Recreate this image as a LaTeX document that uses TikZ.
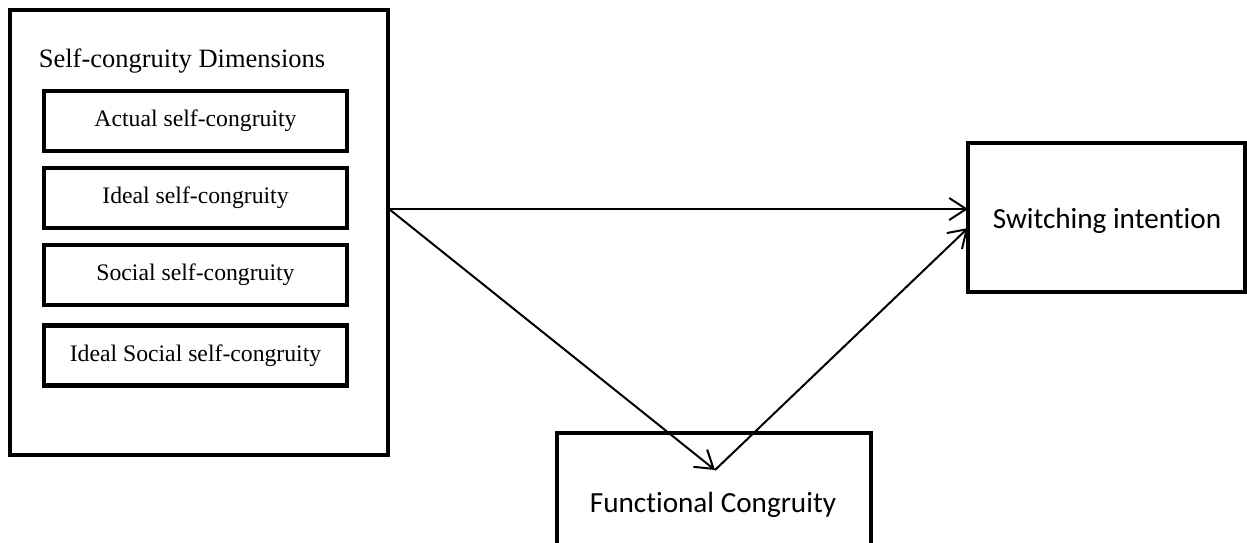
\documentclass[tikz,border=0pt]{standalone}
\usepackage{fontspec}
\setmainfont{Liberation Serif}
\newfontfamily\calibrifont[Ligatures={NoCommon}]{Carlito}
\usetikzlibrary{arrows.meta}
\tikzset{
  bigbox/.style={draw, line width=2pt, inner sep=0pt},
  dimbox/.style={draw, line width=2.2pt, inner sep=0pt, minimum width=151.5pt, minimum height=30pt, font=\fontsize{11.85}{14}\selectfont},
  sanslabel/.style={inner sep=0pt, anchor=base, font=\calibrifont\fontsize{14.6}{17}\selectfont},
  link/.style={line width=1pt, -{Straight Barb[length=8.5pt,width=11pt,line width=1pt]}}
}
\begin{document}
\begin{tikzpicture}[x=0.5pt,y=-0.5pt]
\useasboundingbox (0,0) rectangle (1247,542);
\begin{scope}
\clip (0,0) rectangle (1247,542);
% outer group box
\node[bigbox, minimum width=189pt, minimum height=222.5pt] (outer) at (199,232.5) {};
\node[inner sep=0pt, anchor=base, font=\fontsize{13.25}{16}\selectfont] (title) at (182,67) {Self-congruity Dimensions};
\node[dimbox] (actual) at (195.5,121) {Actual self-congruity};
\node[dimbox] (ideal) at (195.5,198) {Ideal self-congruity};
\node[dimbox] (social) at (195.5,275) {Social self-congruity};
\node[dimbox] (idealsocial) at (195.5,355.5) {Ideal Social self-congruity};
% switching intention
\node[bigbox, minimum width=138.5pt, minimum height=74.5pt] (switch) at (1106.5,217.5) {};
\node[sanslabel] (switchtxt) at (1107,228) {Switching intention};
% functional congruity
\node[bigbox, minimum width=157pt, minimum height=83.5pt] (func) at (714,516.5) {};
\node[sanslabel] (functxt) at (713,512) {Functional Congruity};
% connectors
\coordinate (src) at (389,209);
\coordinate (ftip) at (715,470);
\coordinate (sin1) at (968,209);
\coordinate (sin2) at (968,228);
\draw[link] (src) -- (sin1);
\draw[link] (src) -- (ftip);
\draw[link] (ftip) -- (sin2);
\end{scope}
\end{tikzpicture}
\end{document}
